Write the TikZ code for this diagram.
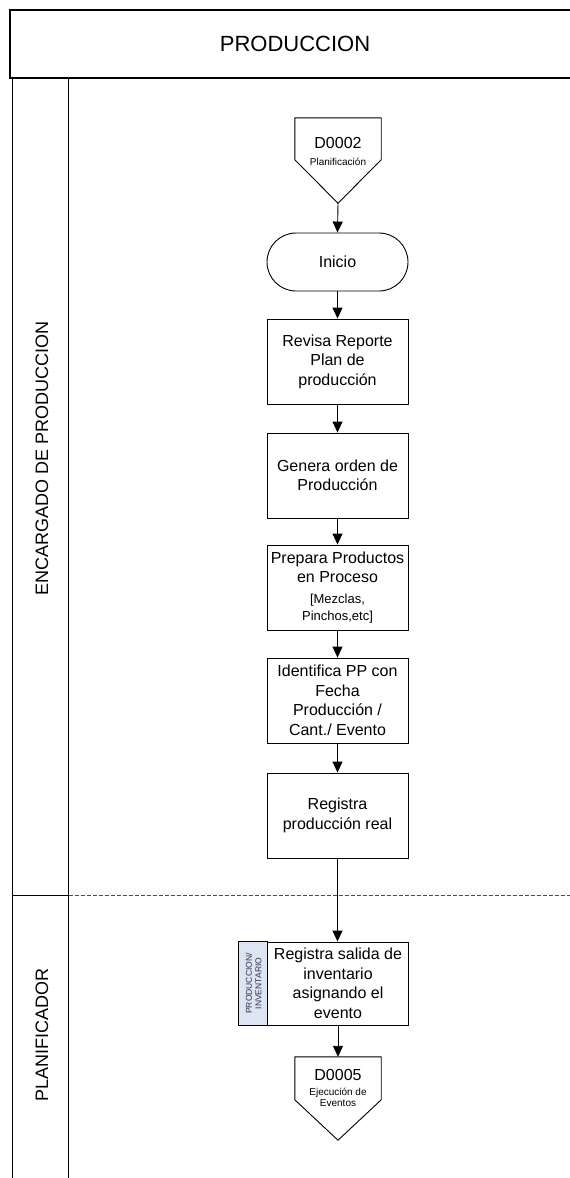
\documentclass[tikz,border=0pt]{standalone}
\usepackage{fontspec}
\setmainfont{Liberation Sans}
\usetikzlibrary{arrows.meta,calc}
\definecolor{stripblue}{RGB}{221,228,242}
\definecolor{striptext}{RGB}{50,50,70}
\newcommand{\noteline}[1]{{\fontsize{13}{16}\selectfont #1}}
\begin{document}
\begin{tikzpicture}[x=1pt,y=-1pt,
  lane/.style={line width=1pt,draw=black},
  stepbox/.style={draw=black,line width=0.9pt,minimum width=141pt,minimum height=85pt,
    inner sep=0pt,align=center,font=\fontsize{16}{19.5}\selectfont},
  boxtext/.style={inner sep=0pt,align=center,font=\fontsize{16}{19.5}\selectfont},
  small/.style={font=\fontsize{10}{11.5}\selectfont,inner sep=0pt,align=center},
  code/.style={font=\fontsize{16}{18}\selectfont,inner sep=0pt},
  pageref/.style={minimum width=86pt,minimum height=85pt,inner sep=0pt},
  flow/.style={line width=0.9pt,draw=black,-{Triangle[length=11pt,width=10pt]}},
  lanelabel/.style={rotate=90,font=\fontsize{18}{22}\selectfont,inner sep=0pt}]
\useasboundingbox (0,0) rectangle (570,1178);

% pool header
\draw[line width=2pt] (575,10) -- (10,10) -- (10,78) -- (575,78);
\node[font=\fontsize{22}{26}\selectfont,inner sep=0pt] (title) at (295,44) {PRODUCCION};

% lanes
\draw[lane] (12.5,78) -- (12.5,1178);
\draw[lane] (68.5,78) -- (68.5,1178);
\draw[lane] (12.5,895) -- (68.5,895);
\draw[line width=0.8pt,draw=black!70,dash pattern=on 4pt off 2pt] (68.5,895) -- (575,895);
\node[lanelabel] (lane1) at (42,458) {ENCARGADO DE PRODUCCION};
\node[lanelabel] (lane2) at (42,1035) {PLANIFICADOR};

% off-page reference D0002
\node[pageref] (d2) at (338,160.5) {};
\draw[line width=0.9pt] (d2.north west) -- (d2.north east) -- ($(d2.north east)+(0,42)$)
  -- (d2.south) -- ($(d2.north west)+(0,42)$) -- cycle;
\node[code] (d2code) at (338,143) {D0002};
\node[small] (d2name) at (338,162) {Planificación};

% start terminator
\node[draw=black,line width=0.9pt,rounded corners=29pt,minimum width=141pt,minimum height=58pt,
  font=\fontsize{16}{19.5}\selectfont] (inicio) at (337.5,262) {Inicio};

% process steps
\node[stepbox] (revisa) at (337.5,361.5) {Revisa Reporte\\Plan de\\producción};
\node[stepbox] (genera) at (337.5,475.5) {Genera orden de\\Producción};
\node[stepbox] (prepara) at (337.5,587.5) {Prepara Productos\\en Proceso\\[1pt]
  \noteline{[Mezclas,}\\[-2pt]\noteline{Pinchos,etc]}};
\node[stepbox] (identifica) at (337.5,700.5) {Identifica PP con\\Fecha\\Producción /\\Cant./ Evento};
\node[stepbox] (real) at (337.5,815.5) {Registra\\producción real};

% step in the planner lane, with its system tag
\node[stepbox,minimum width=169pt,minimum height=83pt] (salida) at (323.5,983.5) {};
\draw[line width=0.9pt,fill=stripblue] (salida.north west) rectangle ($(salida.south west)+(29,0)$);
\node[rotate=90,align=center,inner sep=0pt,text=striptext,font=\fontsize{8.5}{9.5}\selectfont]
  (sistema) at (253.5,983.5) {PRODUCCION/\\INVENTARIO};
\node[boxtext] (salidatxt) at (338,983.5) {Registra salida de\\inventario\\asignando el\\evento};

% off-page reference D0005
\node[pageref,minimum height=83pt] (d5) at (338,1098.5) {};
\draw[line width=0.9pt] (d5.north west) -- (d5.north east) -- ($(d5.north east)+(0,43)$)
  -- (d5.south) -- ($(d5.north west)+(0,43)$) -- cycle;
\node[code] (d5code) at (338,1075) {D0005};
\node[small] (d5name) at (338,1097.5) {Ejecución de\\Eventos};

% connectors
\draw[flow] (d2.south) -- (inicio.north);
\draw[flow] (inicio) -- (revisa);
\draw[flow] (revisa) -- (genera);
\draw[flow] (genera) -- (prepara);
\draw[flow] (prepara) -- (identifica);
\draw[flow] (identifica) -- (real);
\draw[flow] (real.south) -- (real.south |- salida.north);
\draw[flow] (salidatxt |- salida.south) -- (d5.north);
\end{tikzpicture}
\end{document}
